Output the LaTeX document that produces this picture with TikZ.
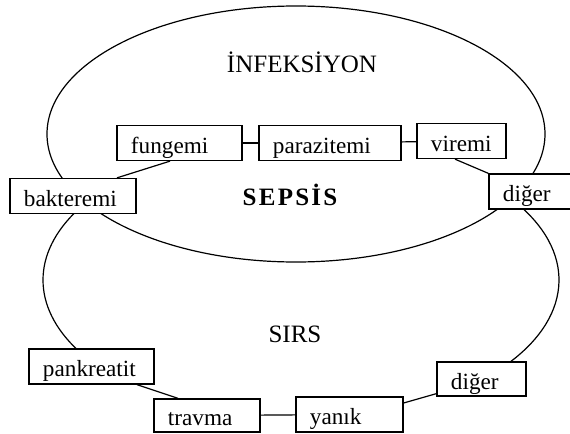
\documentclass[tikz,border=0pt]{standalone}
\usepackage{fontspec}
\setmainfont{Liberation Serif}
\begin{document}
\begin{tikzpicture}[x=0.5pt,y=-0.5pt,
    kutu/.style={draw, fill=white, line width=0.65pt, inner ysep=0pt,
      inner xsep=7pt, align=left, text height=10pt, text depth=0pt,
      minimum height=17.5pt, font=\fontsize{11.6}{13}\selectfont},
    genislik/.style={text width=#1-14pt},
    bag/.style={line width=0.6pt},
    baslik/.style={font=\fontsize{12.5}{14}\selectfont}]
  \useasboundingbox (0,0) rectangle (570,434);
  % infeksiyon elipsi
  \coordinate (inf) at (296,134);
  \draw[bag] (inf) ellipse [x radius=249, y radius=128];
  % SIRS yan yaylari
  \coordinate (sirs) at (301,280);
  \draw[bag] (sirs) ++(150:258 and 140)
    arc[start angle=150, end angle=210, x radius=258, y radius=140];
  \draw[bag] (sirs) ++(-32:258 and 140)
    arc[start angle=-32, end angle=38, x radius=258, y radius=140];
  % kutular
  \node[kutu, genislik=63pt] (bakteremi) at (73,196) {bakteremi};
  \node[kutu, genislik=62.5pt] (fungemi) at (179.5,143) {fungemi};
  \node[kutu, genislik=71pt] (parazitemi) at (330,143) {parazitemi};
  \node[kutu, genislik=44.5pt] (viremi) at (461.5,141) {viremi};
  \node[kutu, genislik=42pt] (diger1) at (531,191.5) {diğer};
  \node[kutu, genislik=62.5pt] (pankreatit) at (91.5,366.5) {pankreatit};
  \node[kutu, genislik=53pt, minimum height=16.5pt] (travma) at (207,415.5) {travma};
  \node[kutu, genislik=53.5pt] (yanik) at (349.5,414.5) {yanık};
  \node[kutu, genislik=44.5pt, minimum height=17pt] (diger2) at (481.5,379) {diğer};
  % baglantilar
  \draw[bag] (fungemi) -- (parazitemi);
  \draw[bag] (parazitemi) -- (viremi);
  \draw[bag] ([xshift=-4.75pt]fungemi.south) -- ([xshift=22pt]bakteremi.north);
  \draw[bag] ([xshift=-3.25pt]viremi.south) -- (diger1.north west);
  \draw[bag] ([xshift=22.75pt]pankreatit.south) -- ([xshift=-14.5pt]travma.north);
  \draw[bag] (travma) -- (yanik);
  \draw[bag] ([yshift=5.75pt]yanik.east) -- ([yshift=1.5pt]diger2.south west);
  % basliklar
  \node[baslik] (infeksiyon) at (302,62) {İNFEKSİYON};
  \node[baslik, font=\fontsize{12.5}{14}\selectfont\bfseries\addfontfeature{LetterSpace=9}]
    (sepsis) at (290,195) {SEPSİS};
  \node[baslik] (sirsyazi) at (295,334) {SIRS};
\end{tikzpicture}
\end{document}
